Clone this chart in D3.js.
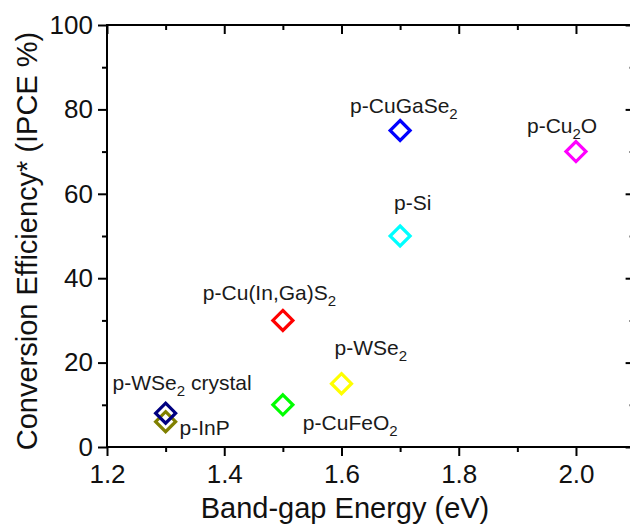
<!DOCTYPE html>
<html>
<head>
<meta charset="utf-8">
<script src="https://cdn.jsdelivr.net/npm/d3@7/dist/d3.min.js"></script>
<style>
  html, body { margin: 0; padding: 0; background: #fff; }
  svg { display: block; font-family: "Liberation Sans", Arial, sans-serif; }
</style>
</head>
<body>
<svg id="chart" width="630" height="526"></svg>
<script>
// Photocathode materials: band gap (eV) vs conversion efficiency (IPCE %)
const materials = ["p-InP", "p-WSe2 crystal", "p-CuFeO2", "p-Cu(In,Ga)S2", "p-WSe2", "p-Si", "p-CuGaSe2", "p-Cu2O"];
const bandGap   = [1.3, 1.3, 1.5, 1.5, 1.6, 1.7, 1.7, 2.0];
const ipce      = [6, 8, 10, 30, 15, 50, 75, 70];
const colors    = ["#808000", "#000080", "#00ff00", "#ff0000", "#ffff00", "#00ffff", "#0000ff", "#ff00ff"];
// label text pieces: [text, isSubscript]
const labelParts = [
  [["p-InP", false]],
  [["p-WSe", false], ["2", true], [" crystal", false]],
  [["p-CuFeO", false], ["2", true]],
  [["p-Cu(In,Ga)S", false], ["2", true]],
  [["p-WSe", false], ["2", true]],
  [["p-Si", false]],
  [["p-CuGaSe", false], ["2", true]],
  [["p-Cu", false], ["2", true], ["O", false]]
];
// label offsets from the marker centre (start of text, baseline)
const labelDx = [14, -53, 20, -80, -7, -6, -50, -49];
const labelDy = [13, -23, 25, -20, -29, -26, -18, -19];

const xTicks = [1.2, 1.4, 1.6, 1.8, 2.0];
const xMinor = [1.3, 1.5, 1.7, 1.9];
const yTicks = [0, 20, 40, 60, 80, 100];
const yMinor = [10, 30, 50, 70, 90];

const svg = d3.select("#chart");
const m = { left: 107, right: 634.6, top: 25, bottom: 447 };

const x = d3.scaleLinear().domain([1.2, 2.1]).range([m.left, m.right]);
const y = d3.scaleLinear().domain([0, 100]).range([m.bottom, m.top]);

const major = 9, minor = 5;
const axisColor = "#000";

function styleAxis(g) {
  g.select(".domain").remove();
  g.selectAll("line").attr("stroke", axisColor).attr("stroke-width", 2);
  g.selectAll("text").attr("fill", "#111").attr("font-size", 26);
}

// frame
svg.append("rect")
  .attr("x", m.left).attr("y", m.top)
  .attr("width", m.right - m.left).attr("height", m.bottom - m.top)
  .attr("fill", "none").attr("stroke", axisColor).attr("stroke-width", 2);

// bottom axis (outward ticks)
svg.append("g").attr("transform", `translate(0,${m.bottom})`)
  .call(d3.axisBottom(x).tickValues(xTicks).tickFormat(d3.format(".1f")).tickSize(major).tickPadding(9))
  .call(styleAxis);
svg.append("g").attr("transform", `translate(0,${m.bottom})`)
  .call(d3.axisBottom(x).tickValues(xMinor).tickFormat("").tickSize(minor))
  .call(styleAxis);

// top axis (inward ticks)
svg.append("g").attr("transform", `translate(0,${m.top})`)
  .call(d3.axisBottom(x).tickValues(xTicks).tickFormat("").tickSize(major))
  .call(styleAxis);
svg.append("g").attr("transform", `translate(0,${m.top})`)
  .call(d3.axisBottom(x).tickValues(xMinor).tickFormat("").tickSize(minor))
  .call(styleAxis);

// left axis (outward ticks)
svg.append("g").attr("transform", `translate(${m.left},0)`)
  .call(d3.axisLeft(y).tickValues(yTicks).tickFormat(d3.format("d")).tickSize(major).tickPadding(5))
  .call(styleAxis);
svg.append("g").attr("transform", `translate(${m.left},0)`)
  .call(d3.axisLeft(y).tickValues(yMinor).tickFormat("").tickSize(minor))
  .call(styleAxis);

// right axis (inward ticks)
svg.append("g").attr("transform", `translate(${m.right},0)`)
  .call(d3.axisLeft(y).tickValues(yTicks).tickFormat("").tickSize(major))
  .call(styleAxis);
svg.append("g").attr("transform", `translate(${m.right},0)`)
  .call(d3.axisLeft(y).tickValues(yMinor).tickFormat("").tickSize(minor))
  .call(styleAxis);

// axis titles
svg.append("text")
  .attr("x", 345).attr("y", 518)
  .attr("text-anchor", "middle")
  .attr("font-size", 29).attr("fill", "#111")
  .text("Band-gap Energy (eV)");

svg.append("text")
  .attr("transform", `translate(37,${(m.top + m.bottom) / 2 + 5}) rotate(-90)`)
  .attr("text-anchor", "middle")
  .attr("font-size", 29).attr("fill", "#111")
  .text("Conversion Efficiency* (IPCE %)");

// markers: hollow diamonds
const half = 10;
const diamond = `M0,${-half}L${half},0L0,${half}L${-half},0Z`;
const idx = d3.range(materials.length);

svg.append("g").selectAll("path")
  .data(idx)
  .join("path")
  .attr("d", diamond)
  .attr("transform", i => `translate(${x(bandGap[i])},${y(ipce[i])})`)
  .attr("fill", "none")
  .attr("stroke", i => colors[i])
  .attr("stroke-width", 3.2);

// labels with subscripts
const labels = svg.append("g").selectAll("text")
  .data(idx)
  .join("text")
  .attr("x", i => x(bandGap[i]) + labelDx[i])
  .attr("y", i => y(ipce[i]) + labelDy[i])
  .attr("font-size", 21)
  .attr("fill", "#1a1a1a");

labels.each(function(i) {
  const t = d3.select(this);
  let sub = false;
  labelParts[i].forEach(([str, isSub]) => {
    const span = t.append("tspan").text(str);
    if (isSub && !sub) { span.attr("font-size", 15).attr("dy", 6); sub = true; }
    else if (!isSub && sub) { span.attr("dy", -6); sub = false; }
  });
});
</script>
</body>
</html>
